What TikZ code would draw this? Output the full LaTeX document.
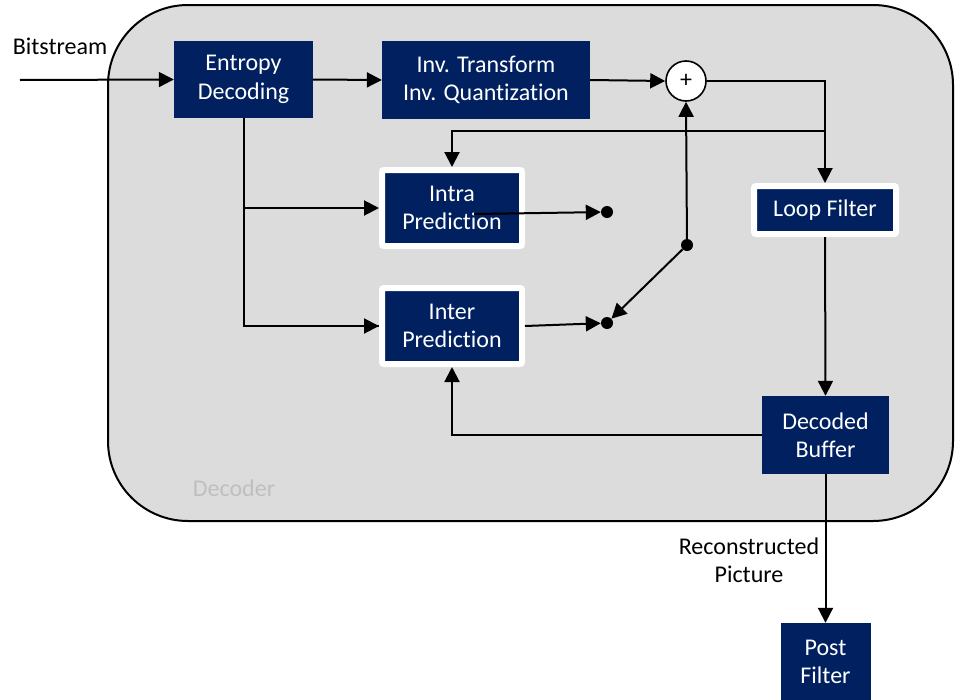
\documentclass[tikz,border=0pt]{standalone}
\usepackage{fontspec}
\setmainfont{Carlito}[Ligatures=NoCommon]
\usetikzlibrary{arrows.meta,calc}
\definecolor{navy}{HTML}{002060}
\definecolor{panel}{HTML}{DCDCDC}
\definecolor{faint}{HTML}{BFBFBF}
\begin{document}
\begin{tikzpicture}[x=1pt,y=-1pt,
  font=\fontsize{24}{28.5}\selectfont,
  blk/.style={fill=navy,text=white,inner sep=0pt,align=center},
  wblk/.style={fill=navy,text=white,draw=white,line width=6pt,rounded corners=2pt,inner sep=0pt,align=center},
  arr/.style={line width=2pt,-{Triangle[length=15pt,width=15pt]}},
  ln/.style={line width=2pt},
  dot/.style={circle,fill=black,inner sep=0pt,minimum size=12pt}]
\useasboundingbox (0,0) rectangle (957,699);
\clip (0,0) rectangle (957,699);
\fill[white] (0,0) rectangle (957,699);
\draw[fill=panel,line width=2pt,rounded corners=80pt] (108,5) rectangle (953,521);
\node[text=faint] (declab) at (234,488) {Decoder};
\node (bitlab) at (60,46) {Bitstream};
\coordinate (bitin) at (20,80);
\node[blk,minimum width=139pt,minimum height=77pt] (ent) at (243.5,79.5) {Entropy\\Decoding};
\node[blk,minimum width=208pt,minimum height=78pt] (invt) at (486,80) {Inv. Transform\\Inv. Quantization};
\node[circle,draw=black,line width=1.6pt,fill=white,minimum size=40pt,inner sep=0pt,font=\fontsize{24}{24}\selectfont] (sum) at (686,81) {+};
\node[wblk,minimum width=140pt,minimum height=76pt] (intra) at (452,208) {Intra\\Prediction};
\node[wblk,minimum width=140pt,minimum height=76pt] (inter) at (452,326) {Inter\\Prediction};
\node[wblk,minimum width=142pt,minimum height=48pt] (loop) at (825,210) {Loop Filter};
\node[blk,minimum width=127pt,minimum height=78pt] (buf) at (825.5,435) {Decoded\\Buffer};
\node[blk,minimum width=90pt,minimum height=78pt] (post) at (825.5,662) {Post\\Filter};
\node[align=center] (reclab) at (749,560) {Reconstructed\\Picture};
\node[dot] (d1) at (607,212) {};
\node[dot] (d2) at (607,323) {};
\node[dot] (d3) at (687,245) {};
\coordinate (intraout) at (474,214);
\coordinate (j1) at (825,131);
\draw[arr] (bitin) -- (ent.west);
\draw[arr] (ent.east) -- (invt.west);
\draw[arr] (invt.east) -- (sum.west);
\draw[arr] (sum.east) -| (loop.north);
\draw[arr] (j1) -| (intra.north);
\draw[ln] (ent.south) |- (inter.west);
\draw[arr] (ent.south |- intra.west) -- (intra.west);
\draw[arr] (ent.south |- inter.west) -- (inter.west);
\draw[arr] (intraout) -- (d1);
\draw[arr] (inter.east) -- (d2);
\draw[arr] (d3) -- (sum.south);
\draw[arr] (d3) -- (d2);
\draw[arr] (loop.south) -- (buf.north);
\draw[arr] (buf.west) -| (inter.south);
\draw[arr] (buf.south) -- (post.north);
\end{tikzpicture}
\end{document}
